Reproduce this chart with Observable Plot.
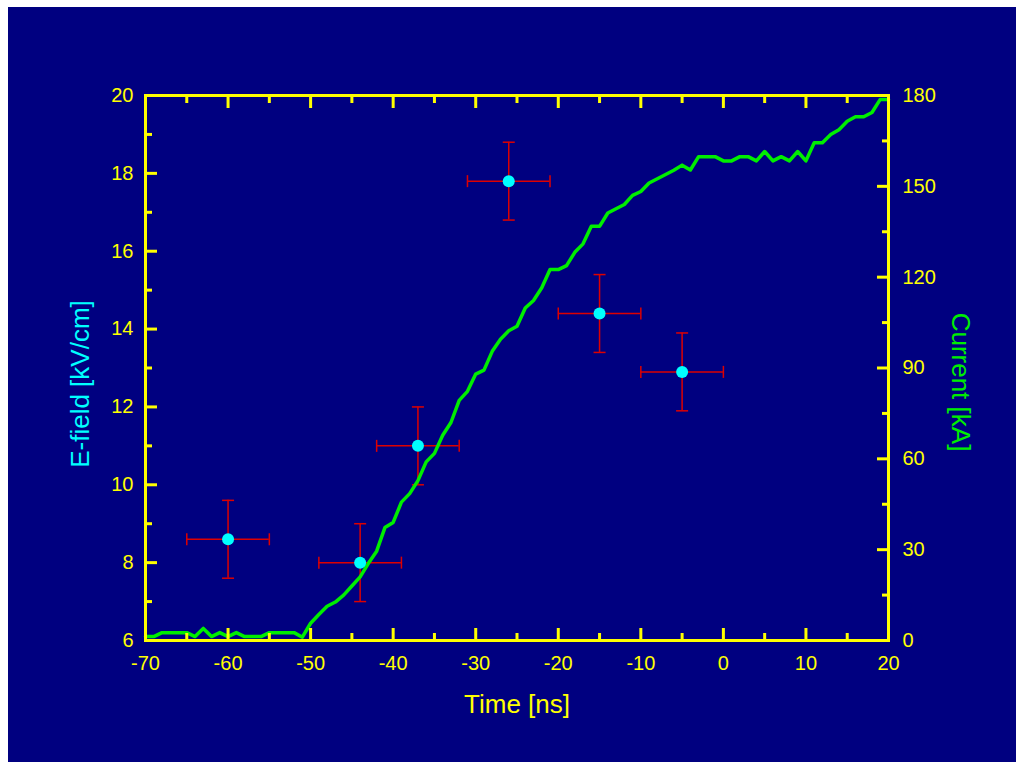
<!DOCTYPE html>
<html><head><meta charset="utf-8">
<script src="https://cdn.jsdelivr.net/npm/d3@7"></script>
<script src="https://cdn.jsdelivr.net/npm/@observablehq/plot@0.6"></script>
<style>
html,body{margin:0;padding:0;background:#fff;}
#chart{position:absolute;left:8px;top:7px;}
</style></head><body><div id="chart"></div>
<script>
// Current waveform (Time [ns], Current [kA])
const currentTime = [-70,-69,-68,-67,-66,-65,-64,-63,-62,-61,-60,-59,-58,-57,-56,-55,-54,-53,-52,-51,
  -50,-49,-48,-47,-46,-45,-44,-43,-42,-41,-40,-39,-38,-37,-36,-35,-34,-33,-32,-31,
  -30,-29,-28,-27,-26,-25,-24,-23,-22,-21,-20,-19,-18,-17,-16,-15,-14,-13,-12,-11,
  -10,-9,-8,-7,-6,-5,-4,-3,-2,-1,0,1,2,3,4,5,6,7,8,9,10,11,12,13,14,15,16,17,18,19,20];
const currentKA = [1.3,1.3,2.6,2.6,2.6,2.6,1.3,4.0,1.3,2.6,1.3,2.6,1.3,1.3,1.3,2.6,2.6,2.6,2.6,1.1,
  5.7,8.6,11.3,12.7,15.0,18.0,21.0,25.5,29.5,37.3,39.0,45.7,48.5,52.8,59.0,61.8,67.8,72.0,79.3,82.3,
  88.0,89.3,95.5,99.5,102.3,103.8,109.8,112.3,116.5,122.5,122.5,123.8,128.2,131.0,136.8,136.8,141.2,142.6,144.0,147.0,
  148.3,151.1,152.5,153.9,155.3,157.0,155.4,159.8,159.8,159.8,158.4,158.4,159.8,159.8,158.4,161.5,158.4,159.8,158.4,161.5,
  158.4,164.4,164.4,167.1,168.7,171.5,173.0,173.0,174.4,178.7,178.7];

// E-field measurements with error bars
const fieldTime = [-60, -44, -37, -26, -15, -5];
const fieldKVcm = [8.6, 8.0, 11.0, 17.8, 14.4, 12.9];
const fieldTimeErr = [5, 5, 5, 5, 5, 5];
const fieldErr = [1, 1, 1, 1, 1, 1];

// Axis ticks
const xMajor = [-70,-60,-50,-40,-30,-20,-10,0,10,20];
const xMinor = [-65,-55,-45,-35,-25,-15,-5,5,15];
const yMajor = [6,8,10,12,14,16,18,20];
const yMinor = [7,9,11,13,15,17,19];
const cMajor = [0,30,60,90,120,150,180];
const cMinor = [15,45,75,105,135,165];

const Y0 = 6, Y1 = 20, C1 = 180;
const toY = c => Y0 + c * (Y1 - Y0) / C1;
const fromY = y => (y - Y0) * C1 / (Y1 - Y0);

const current = currentTime.map((t, i) => ({t, i: currentKA[i]}));
const pts = fieldTime.map((t, k) => ({t, e: fieldKVcm[k], dt: fieldTimeErr[k], de: fieldErr[k]}));

const YELLOW = "#ffff00", NAVY = "#000080", CYAN = "#00ffff", GREEN = "#00ee00", RED = "#dd0000";

const vcap = {draw(ctx, size){ const r = Math.sqrt(size / Math.PI); ctx.moveTo(0, -r); ctx.lineTo(0, r); }};
const hcap = {draw(ctx, size){ const r = Math.sqrt(size / Math.PI); ctx.moveTo(-r, 0); ctx.lineTo(r, 0); }};

const W = 1008, H = 755;
const chart = Plot.plot({
  width: W, height: H,
  marginLeft: 137, marginRight: 128, marginTop: 88, marginBottom: 122,
  style: {background: NAVY, fontFamily: "'Liberation Sans', Arial, sans-serif", color: YELLOW},
  x: {domain: [-70, 20]},
  y: {domain: [6, 20]},
  marks: [
    // error bars
    Plot.ruleY(pts, {y: "e", x1: d => d.t - d.dt, x2: d => d.t + d.dt, stroke: RED, strokeWidth: 1.5}),
    Plot.ruleX(pts, {x: "t", y1: d => d.e - d.de, y2: d => d.e + d.de, stroke: RED, strokeWidth: 1.5}),
    Plot.dot(pts, {x: d => d.t - d.dt, y: "e", symbol: vcap, r: 6, stroke: RED, strokeWidth: 1.5, fill: "none"}),
    Plot.dot(pts, {x: d => d.t + d.dt, y: "e", symbol: vcap, r: 6, stroke: RED, strokeWidth: 1.5, fill: "none"}),
    Plot.dot(pts, {x: "t", y: d => d.e - d.de, symbol: hcap, r: 6, stroke: RED, strokeWidth: 1.5, fill: "none"}),
    Plot.dot(pts, {x: "t", y: d => d.e + d.de, symbol: hcap, r: 6, stroke: RED, strokeWidth: 1.5, fill: "none"}),
    // current
    Plot.line(current, {x: "t", y: d => toY(d.i), stroke: GREEN, strokeWidth: 3.5}),
    // points
    Plot.dot(pts, {x: "t", y: "e", r: 6, fill: CYAN, stroke: "none"}),
    // frame
    Plot.frame({stroke: YELLOW, strokeWidth: 3}),
    // bottom axis
    Plot.axisX({anchor: "bottom", ticks: xMajor, tickSize: 0, tickPadding: 15, fontSize: 20, fill: YELLOW, label: null, tickFormat: d => String(d).replace("−","-")}),
    Plot.axisX({anchor: "bottom", ticks: xMajor, tickSize: -12, strokeWidth: 3, stroke: YELLOW, fill: "none", label: null}),
    Plot.axisX({anchor: "bottom", ticks: xMinor, tickSize: -7, strokeWidth: 3, stroke: YELLOW, fill: "none", label: null}),
    Plot.axisX({anchor: "top", ticks: xMajor, tickSize: -12, strokeWidth: 3, stroke: YELLOW, fill: "none", label: null}),
    Plot.axisX({anchor: "top", ticks: xMinor, tickSize: -7, strokeWidth: 3, stroke: YELLOW, fill: "none", label: null}),
    // left axis
    Plot.axisY({anchor: "left", ticks: yMajor, tickSize: 0, tickPadding: 12, fontSize: 20, fill: YELLOW, label: null}),
    Plot.axisY({anchor: "left", ticks: yMajor, tickSize: -12, strokeWidth: 3, stroke: YELLOW, fill: "none", label: null}),
    Plot.axisY({anchor: "left", ticks: yMinor, tickSize: -7, strokeWidth: 3, stroke: YELLOW, fill: "none", label: null}),
    // right axis (current)
    Plot.axisY({anchor: "right", ticks: cMajor.map(toY), tickFormat: d => String(Math.round(fromY(d))), tickSize: 0, tickPadding: 14, fontSize: 20, fill: YELLOW, label: null}),
    Plot.axisY({anchor: "right", ticks: cMajor.map(toY), tickSize: -12, strokeWidth: 3, stroke: YELLOW, fill: "none", label: null}),
    Plot.axisY({anchor: "right", ticks: cMinor.map(toY), tickSize: -7, strokeWidth: 3, stroke: YELLOW, fill: "none", label: null}),
    // titles
    Plot.text(["Time [ns]"], {text: d => d, frameAnchor: "bottom", textAnchor: "middle", lineAnchor: "middle", dy: 64, fontSize: 26, fill: YELLOW}),
    Plot.text(["E-field [kV/cm]"], {text: d => d, frameAnchor: "left", textAnchor: "middle", lineAnchor: "middle", rotate: -90, dx: -65, dy: 16, fontSize: 26, fill: CYAN}),
    Plot.text(["Current [kA]"], {text: d => d, frameAnchor: "right", textAnchor: "middle", lineAnchor: "middle", rotate: 90, dx: 72, dy: 14, fontSize: 26, fill: GREEN})
  ]
});
document.getElementById("chart").appendChild(chart);
</script></body></html>
